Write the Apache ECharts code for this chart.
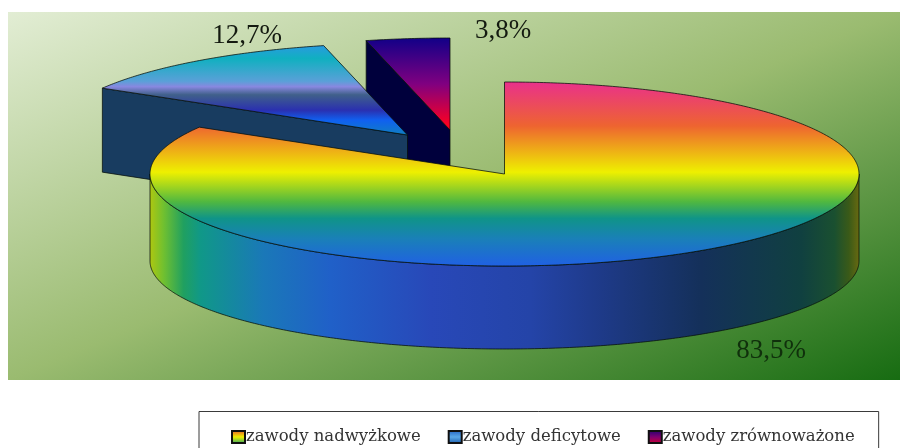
<!DOCTYPE html>
<html>
<head>
<meta charset="utf-8">
<title>zawody</title>
<style>
    html, body { margin: 0; padding: 0; background: #fff; }
    #chart { width: 900px; height: 448px; }
</style>
<script src="https://cdn.jsdelivr.net/npm/echarts@6/dist/echarts.min.js"></script>
</head>
<body>
<div id="chart"></div>
<script>
var categories = ['zawody nadwyżkowe', 'zawody deficytowe', 'zawody zrównoważone'];
var shares = [83.5, 12.7, 3.8];

// rzut elipsy
var pie = { cx: 504.5, cy: 174, rx: 354.5, ry: 92, baseCy: 261, baseRy: 88, depth: 84 };
var explode = [[0, 0], [-97, -39], [-54.5, -44]];
var labelPos = [[771, 351], [247, 36], [503, 31]];
var labelColor = ['#10300c', '#141a10', '#141a10'];
var seriesZ = [4, 3, 2];
var edge = 'rgba(5, 15, 10, 0.75)';

function vertical(stops) {
    return {
        type: 'linear', x: 0, y: 0, x2: 0, y2: 1,
        colorStops: stops.map(function (s) { return { offset: s[0], color: s[1] }; })
    };
}

var topFill = [
    vertical([[0, '#e9308c'], [0.24, '#ee6430'], [0.49, '#eef000'], [0.65, '#50b840'], [0.74, '#0f9488'], [0.85, '#1a80b8'], [1, '#2060e4']]),
    vertical([[0, '#2a9ae0'], [0.15, '#10b0c0'], [0.4, '#5aa0d8'], [0.46, '#8888e0'], [0.55, '#40608a'], [0.72, '#2a30b0'], [0.83, '#1060f0'], [1, '#1080c0']]),
    vertical([[0, '#100088'], [0.5, '#800080'], [0.95, '#ff0020'], [1, '#ff0020']])
];
var wallFill = [
    {
        type: 'linear', x: 0, y: 0, x2: 1, y2: 0,
        colorStops: [
            { offset: 0, color: '#b0c810' }, { offset: 0.02, color: '#70c030' }, { offset: 0.048, color: '#20a060' },
            { offset: 0.072, color: '#109888' }, { offset: 0.161, color: '#1a78b8' }, { offset: 0.255, color: '#2060c8' },
            { offset: 0.397, color: '#2848b8' }, { offset: 0.537, color: '#2444a8' }, { offset: 0.637, color: '#1e3a88' },
            { offset: 0.777, color: '#14305a' }, { offset: 0.918, color: '#104040' }, { offset: 0.965, color: '#1a5030' },
            { offset: 0.985, color: '#3a5a18' }, { offset: 1, color: '#6a6a10' }
        ]
    },
    '#183c60',
    '#00003c'
];
var swatchFill = [
    vertical([[0, '#e8502c'], [0.5, '#eef000'], [1, '#20a070']]),
    vertical([[0, '#2060c0'], [0.5, '#5aa8e8'], [1, '#1858a8']]),
    vertical([[0, '#200070'], [0.5, '#800070'], [1, '#d00030']])
];

var starts = [];
var sum = 0;
shares.forEach(function (v) {
    starts.push(sum);
    sum += v;
});

// kat liczony od godziny 12 zgodnie z ruchem wskazowek
function rad(share) {
    return share / 100 * Math.PI * 2;
}

function topPoint(a, off) {
    return [pie.cx + off[0] + Math.sin(a) * pie.rx, pie.cy + off[1] - Math.cos(a) * pie.ry];
}

function basePoint(a, off) {
    return [pie.cx + off[0] + Math.sin(a) * pie.rx, pie.baseCy + off[1] - Math.cos(a) * pie.baseRy];
}

function arc(a0, a1, pointFn, off) {
    var pts = [];
    var n = Math.max(8, Math.ceil((a1 - a0) / 0.01));
    for (var i = 0; i <= n; i++) {
        pts.push(pointFn(a0 + (a1 - a0) * i / n, off));
    }
    return pts;
}

function poly(points, fill, z2) {
    return {
        type: 'polygon',
        z2: z2,
        shape: { points: points },
        style: { fill: fill, stroke: edge, lineWidth: 1, lineJoin: 'round' }
    };
}

function sliceRenderer(idx) {
    return function (params, api) {
        var share = api.value(0);
        var start = api.value(1);
        var off = explode[idx];
        var a0 = rad(start);
        var a1 = rad(start + share);
        var apex = [pie.cx + off[0], pie.cy + off[1]];
        var children = [];

        if (idx === 0) {
            // przednia sciana
            var wallTop = arc(Math.PI / 2, Math.PI * 1.5, topPoint, off);
            var wallBase = arc(Math.PI / 2, Math.PI * 1.5, basePoint, off).reverse();
            children.push(poly(wallTop.concat(wallBase), wallFill[idx], 1));
        } else {
            var p = topPoint(a0, off);
            children.push(poly([
                apex, p, [p[0], p[1] + pie.depth], [apex[0], apex[1] + pie.depth]
            ], wallFill[idx], 1));
        }

        children.push(poly([apex].concat(arc(a0, a1, topPoint, off)), topFill[idx], 2));
        children.push({
            type: 'text',
            z2: 3,
            style: {
                text: share.toFixed(1).replace('.', ',') + '%',
                x: labelPos[idx][0],
                y: labelPos[idx][1],
                align: 'center',
                verticalAlign: 'middle',
                font: '27px "Liberation Serif"',
                fill: labelColor[idx]
            }
        });
        return { type: 'group', children: children };
    };
}

var myChart = echarts.init(document.getElementById('chart'));

var option = {
    animation: false,
    backgroundColor: '#ffffff',
    graphic: {
        elements: [{
            type: 'rect',
            z: -10,
            silent: true,
            shape: { x: 8, y: 12, width: 892, height: 368 },
            style: {
                fill: {
                    type: 'linear', x: 0, y: 0, x2: 0.291, y2: 1.709,
                    colorStops: [
                        { offset: 0, color: '#e2edd4' },
                        { offset: 0.5, color: '#9abb70' },
                        { offset: 1, color: '#176c12' }
                    ]
                }
            }
        }]
    },
    legend: {
        left: 199,
        top: 411.5,
        orient: 'horizontal',
        padding: [17, 24, 17, 32],
        itemGap: 27,
        itemWidth: 13,
        itemHeight: 12,
        icon: 'rect',
        selectedMode: false,
        backgroundColor: '#ffffff',
        borderColor: '#3a3a3a',
        borderWidth: 1,
        textStyle: {
            fontFamily: '"DejaVu Serif"',
            fontSize: 16.5,
            color: '#333333',
            padding: [0, 0, 0, -4]
        },
        data: categories
    },
    series: categories.map(function (name, i) {
        return {
            type: 'custom',
            name: name,
            coordinateSystem: 'none',
            silent: true,
            z: seriesZ[i],
            itemStyle: { color: swatchFill[i], borderColor: '#101010', borderWidth: 1.5 },
            renderItem: sliceRenderer(i),
            data: [[shares[i], starts[i]]]
        };
    })
};

myChart.setOption(option);
</script>
</body>
</html>
